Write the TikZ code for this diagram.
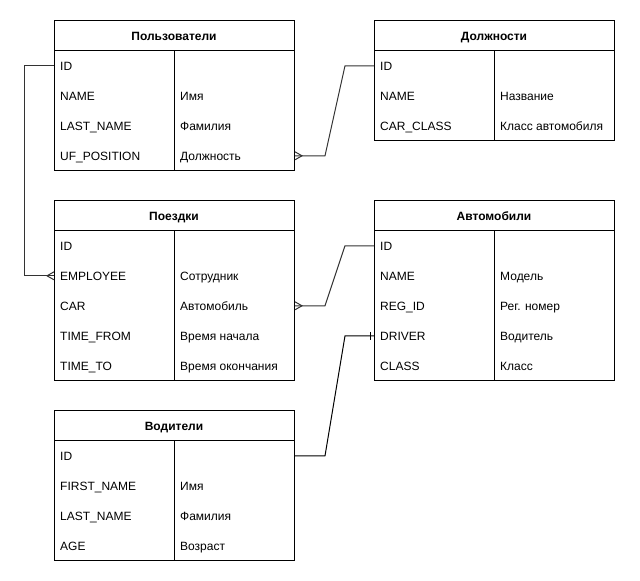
\documentclass[tikz,border=0pt]{standalone}
\usepackage{fontspec}
\setmainfont{Liberation Sans}
\tikzset{%
    tbl/.style={draw, rectangle, line width=1pt, minimum width=240pt, inner sep=0pt, anchor=north west},
    fld/.style={anchor=west, inner sep=0pt, yshift=-0.8pt, text height=8.6pt, text depth=0pt, font=\fontsize{12}{14}\selectfont},
    hdr/.style={inner sep=0pt, yshift=-0.8pt, text height=8.6pt, text depth=0pt, font=\fontsize{12}{14}\selectfont\bfseries},
    rel/.style={draw=black!80, line width=1pt}
}

\begin{document}
\begin{tikzpicture}[x=1pt,y=-1pt]
        \useasboundingbox (0,0) rectangle (640,581);

        % Пользователи
        \node[tbl,minimum height=150pt] (usr) at (54,20){};
        \draw[line width=1pt] (54,50) -- (294,50);
        \draw[line width=1pt] (174,50) -- (174,170);
        \node[hdr] (usrT) at (174,35){Пользователи};
        \node[fld] (usrId) at (60,65){ID};
        \node[fld] (usrName) at (60,95){NAME};
        \node[fld] (usrLast) at (60,125){LAST\_NAME};
        \node[fld] (usrPos) at (60,155){UF\_POSITION};
        \node[fld] (usrNameD) at (180,95){Имя};
        \node[fld] (usrLastD) at (180,125){Фамилия};
        \node[fld] (usrPosD) at (180,155){Должность};

        % Должности
        \node[tbl,minimum height=120pt] (pos) at (374,20){};
        \draw[line width=1pt] (374,50) -- (614,50);
        \draw[line width=1pt] (494,50) -- (494,140);
        \node[hdr] (posT) at (494,35){Должности};
        \node[fld] (posId) at (380,65){ID};
        \node[fld] (posName) at (380,95){NAME};
        \node[fld] (posCls) at (380,125){CAR\_CLASS};
        \node[fld] (posNameD) at (500,95){Название};
        \node[fld] (posClsD) at (500,125){Класс автомобиля};

        % Поездки
        \node[tbl,minimum height=180pt] (trp) at (54,200){};
        \draw[line width=1pt] (54,230) -- (294,230);
        \draw[line width=1pt] (174,230) -- (174,380);
        \node[hdr] (trpT) at (174,215){Поездки};
        \node[fld] (trpId) at (60,245){ID};
        \node[fld] (trpEmp) at (60,275){EMPLOYEE};
        \node[fld] (trpCar) at (60,305){CAR};
        \node[fld] (trpFrom) at (60,335){TIME\_FROM};
        \node[fld] (trpTo) at (60,365){TIME\_TO};
        \node[fld] (trpEmpD) at (180,275){Сотрудник};
        \node[fld] (trpCarD) at (180,305){Автомобиль};
        \node[fld] (trpFromD) at (180,335){Время начала};
        \node[fld] (trpToD) at (180,365){Время окончания};

        % Автомобили
        \node[tbl,minimum height=180pt] (car) at (374,200){};
        \draw[line width=1pt] (374,230) -- (614,230);
        \draw[line width=1pt] (494,230) -- (494,380);
        \node[hdr] (carT) at (494,215){Автомобили};
        \node[fld] (carId) at (380,245){ID};
        \node[fld] (carName) at (380,275){NAME};
        \node[fld] (carReg) at (380,305){REG\_ID};
        \node[fld] (carDrv) at (380,335){DRIVER};
        \node[fld] (carCls) at (380,365){CLASS};
        \node[fld] (carNameD) at (500,275){Модель};
        \node[fld] (carRegD) at (500,305){Рег. номер};
        \node[fld] (carDrvD) at (500,335){Водитель};
        \node[fld] (carClsD) at (500,365){Класс};

        % Водители
        \node[tbl,minimum height=150pt] (drv) at (54,410){};
        \draw[line width=1pt] (54,440) -- (294,440);
        \draw[line width=1pt] (174,440) -- (174,560);
        \node[hdr] (drvT) at (174,425){Водители};
        \node[fld] (drvId) at (60,455){ID};
        \node[fld] (drvFirst) at (60,485){FIRST\_NAME};
        \node[fld] (drvLast) at (60,515){LAST\_NAME};
        \node[fld] (drvAge) at (60,545){AGE};
        \node[fld] (drvFirstD) at (180,485){Имя};
        \node[fld] (drvLastD) at (180,515){Фамилия};
        \node[fld] (drvAgeD) at (180,545){Возраст};

        % связи
        \coordinate (e1) at (trp.west |- trpEmp);
        \coordinate (e2) at (usr.east |- usrPos);
        \coordinate (e3) at (trp.east |- trpCar);
        \coordinate (e4) at (car.west |- carDrv);

        \draw[rel] (usr.west |- usrId) -- ++(-30,0) |- (e1);
        \draw[rel] ([yshift=4pt]e1) -- ++(-7,4) -- ++(7,4);

        \draw[rel] (e2) -- ++(30,0) -- ++(20,-90) -- (pos.west |- posId);
        \draw[rel] ([yshift=4pt]e2) -- ++(7,4) -- ++(-7,4);

        \draw[rel] (e3) -- ++(30,0) -- ++(20,-60) -- (car.west |- carId);
        \draw[rel] ([yshift=4pt]e3) -- ++(7,4) -- ++(-7,4);

        \draw[line width=1pt] (drv.east |- drvId) -- ++(30,0) -- ++(20,-120) -- (e4);
        \draw[line width=1pt] ([xshift=-4pt]e4) ++(0,-4) -- ++(0,8);
    \end{tikzpicture}
\end{document}
